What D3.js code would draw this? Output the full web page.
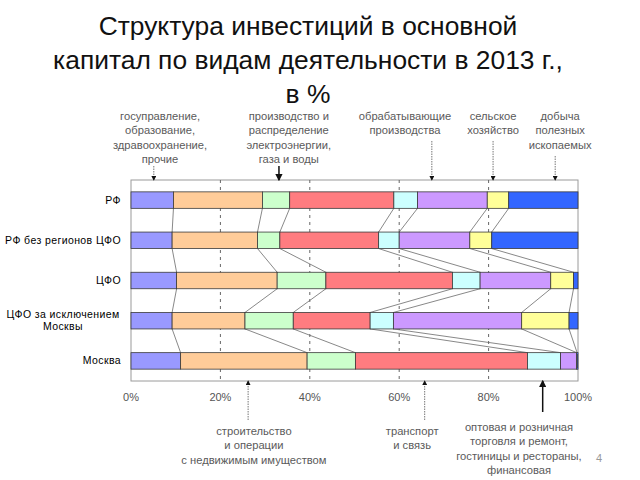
<!DOCTYPE html>
<html>
<head>
<meta charset="utf-8">
<script src="https://cdn.jsdelivr.net/npm/d3@7"></script>
<style>
  html, body { margin: 0; padding: 0; background: #fff; }
  svg { display: block; font-family: Arial, "Liberation Sans", sans-serif; }
</style>
</head>
<body>
<svg id="chart" width="640" height="480"></svg>
<script>
// ---------- DATA ----------
const titleLines = ["Структура инвестиций в основной", "капитал по видам деятельности в 2013 г.,", "в %"];
const categories = [["РФ"], ["РФ без регионов ЦФО"], ["ЦФО"], ["ЦФО за исключением", "Москвы"], ["Москва"]];
const sectors = [
  "госуправление, образование, здравоохранение, прочие",
  "строительство и операции с недвижимым имуществом",
  "производство и распределение электроэнергии, газа и воды",
  "транспорт и связь",
  "оптовая и розничная торговля и ремонт, гостиницы и рестораны, финансовая",
  "обрабатывающие производства",
  "сельское хозяйство",
  "добыча полезных ископаемых"
];
const rfValues        = [9.5, 19.9, 6.1, 23.3, 5.3, 15.6, 4.8, 15.5];
const rfNoCfdValues   = [9.2, 19.1, 5.0, 22.1, 4.6, 15.8, 4.9, 19.3];
const cfdValues       = [10.2, 22.5, 10.9, 28.3, 6.2, 15.8, 5.1, 1.0];
const cfdNoMosValues  = [9.2, 16.3, 10.8, 17.2, 5.2, 28.7, 10.6, 2.0];
const moscowValues    = [11.1, 28.3, 10.8, 38.5, 7.4, 3.6, 0.1, 0.2];
const seriesValues = [rfValues, rfNoCfdValues, cfdValues, cfdNoMosValues, moscowValues];
const tickValues = [0, 20, 40, 60, 80, 100];
const tickLabels = ["0%", "20%", "40%", "60%", "80%", "100%"];
const annotationTexts = [
  ["госуправление,", "образование,", "здравоохранение,", "прочие"],
  ["производство и", "распределение", "электроэнергии,", "газа и воды"],
  ["обрабатывающие", "производства"],
  ["сельское", "хозяйство"],
  ["добыча", "полезных", "ископаемых"],
  ["строительство", "и операции", "с недвижимым имуществом"],
  ["транспорт", "и связь"],
  ["оптовая и розничная", "торговля и ремонт,", "гостиницы и рестораны,", "финансовая"]
];
// Where each annotation points (percent on the axis) and where its text is centred
const annotationPointAt = [5.1, 33.1, 67.3, 81.0, 94.9, 26.2, 65.7, 92.1];
const annotationTextAt  = [6.5, 35.3, 61.3, 81.0, 96.0, 27.5, 62.9, 86.8];

// ---------- STYLE / LAYOUT ----------
const colors = ["#9999FF", "#FFCC99", "#CCFFCC", "#FF7C80", "#CCFFFF", "#CC99FF", "#FFFF99", "#3366FF"];
const annStyle = [
  {side: "top", solid: false, textY: 120, lineFrom: 166},
  {side: "top", solid: true,  textY: 120, lineFrom: 166},
  {side: "top", solid: false, textY: 120, lineFrom: 141},
  {side: "top", solid: false, textY: 120, lineFrom: 141},
  {side: "top", solid: false, textY: 120, lineFrom: 156},
  {side: "bottom", solid: false, textY: 435, lineFrom: 420},
  {side: "bottom", solid: false, textY: 435, lineFrom: 420},
  {side: "bottom", solid: true,  textY: 431, lineFrom: 412}
];

const svg = d3.select("#chart");
const plot = {left: 131, right: 578, top: 180, bottom: 381};

const x = d3.scaleLinear().domain([0, 100]).range([plot.left, plot.right]);
const y = d3.scaleBand().domain(d3.range(categories.length)).range([plot.top, plot.bottom]).paddingInner(0.59).paddingOuter(0.295);

// Title
const title = svg.append("text").attr("x", 308).attr("y", 35)
  .attr("text-anchor", "middle").attr("font-size", 26.4).attr("fill", "#111");
titleLines.forEach((t, i) => title.append("tspan").attr("x", 308).attr("dy", i === 0 ? 0 : 34).text(t));

// Frame
svg.append("rect").attr("x", plot.left).attr("y", plot.top)
  .attr("width", plot.right - plot.left).attr("height", plot.bottom - plot.top)
  .attr("fill", "none").attr("stroke", "#9a9a9a").attr("stroke-width", 1);

// Gridlines
svg.append("g").selectAll("line").data(tickValues.filter(v => v > 0 && v < 100)).join("line")
  .attr("x1", d => x(d)).attr("x2", d => x(d))
  .attr("y1", plot.top).attr("y2", plot.bottom)
  .attr("stroke", "#666").attr("stroke-width", 1).attr("stroke-dasharray", "3,4");

// Stacked data
const stacked = seriesValues.map(vals => {
  let acc = 0;
  return vals.map(v => { const s = acc; acc += v; return [s, acc]; });
});

// Series lines (connecting segment ends between consecutive bars)
const connG = svg.append("g");
for (let i = 0; i < stacked.length - 1; i++) {
  for (let k = 0; k < sectors.length - 1; k++) {
    connG.append("line")
      .attr("x1", x(stacked[i][k][1])).attr("y1", y(i) + y.bandwidth())
      .attr("x2", x(stacked[i + 1][k][1])).attr("y2", y(i + 1))
      .attr("stroke", "#6a6a6a").attr("stroke-width", 0.8);
  }
}

// Bars
const barG = svg.append("g");
stacked.forEach((row, i) => {
  barG.selectAll(null).data(row).join("rect")
    .attr("x", d => x(d[0])).attr("y", y(i))
    .attr("width", d => x(d[1]) - x(d[0])).attr("height", y.bandwidth())
    .attr("fill", (d, k) => colors[k])
    .attr("stroke", "#3a3a3a").attr("stroke-width", 0.8);
});

// Category labels
categories.forEach((lines, i) => {
  const cy = y(i) + y.bandwidth() / 2;
  const t = svg.append("text").attr("font-size", 10.5).attr("letter-spacing", 0.4).attr("fill", "#000");
  if (lines.length === 1) {
    t.attr("x", 121).attr("y", cy + 3.5).attr("text-anchor", "end").text(lines[0]);
  } else {
    t.attr("text-anchor", "middle");
    lines.forEach((l, j) => t.append("tspan").attr("x", 63).attr("y", cy - 3 + j * 12).text(l));
  }
});

// X tick labels
svg.append("g").selectAll("text").data(tickValues).join("text")
  .attr("x", d => x(d)).attr("y", 401).attr("text-anchor", "middle")
  .attr("font-size", 11).attr("fill", "#555")
  .text((d, i) => tickLabels[i]);

// Annotations
const defs = svg.append("defs");
defs.append("marker").attr("id", "ah").attr("viewBox", "0 0 6 6").attr("refX", 5).attr("refY", 3)
  .attr("markerWidth", 5).attr("markerHeight", 5).attr("orient", "auto")
  .append("path").attr("d", "M0,0 L6,3 L0,6 Z").attr("fill", "#111");

annotationTexts.forEach((lines, i) => {
  const st = annStyle[i];
  const t = svg.append("text").attr("text-anchor", "middle").attr("font-size", 11.2).attr("fill", "#5a5a5a");
  lines.forEach((l, j) => t.append("tspan").attr("x", x(annotationTextAt[i])).attr("y", st.textY + j * 14.3).text(l));
  const px = x(annotationPointAt[i]);
  const yEnd = st.side === "top" ? plot.top : plot.bottom;
  svg.append("line").attr("x1", px).attr("x2", px).attr("y1", st.lineFrom).attr("y2", yEnd)
    .attr("stroke", st.solid ? "#111" : "#777")
    .attr("stroke-width", st.solid ? 1.5 : 1)
    .attr("stroke-dasharray", st.solid ? null : "1.5,1")
    .attr("marker-end", "url(#ah)");
});

// Page number
svg.append("text").attr("x", 599).attr("y", 462).attr("text-anchor", "middle")
  .attr("font-size", 11).attr("fill", "#999").text("4");
</script>
</body>
</html>
